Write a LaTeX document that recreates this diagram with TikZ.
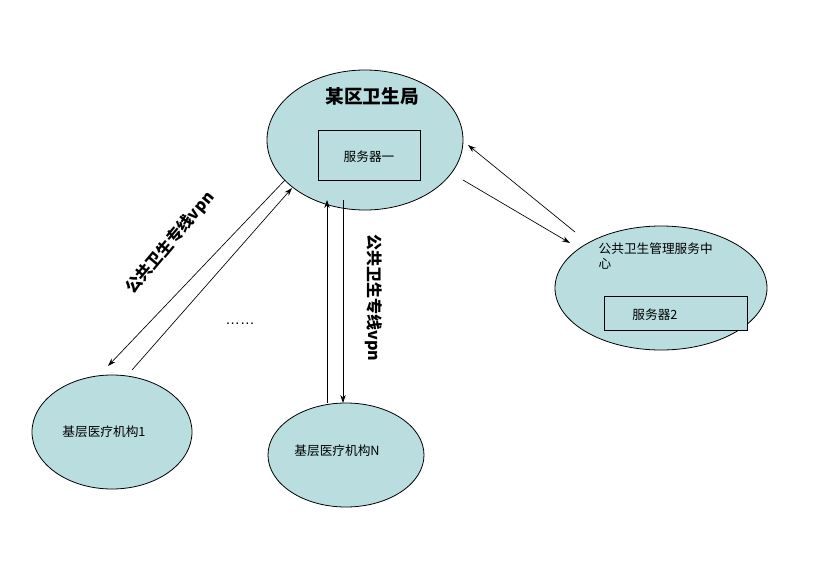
\documentclass[tikz,border=0pt]{standalone}
\usepackage{fontspec}
\setmainfont{Liberation Sans}
\newfontfamily\cjk{Noto Sans CJK SC}
\usetikzlibrary{shapes.geometric,arrows.meta}
\definecolor{ell}{RGB}{186,222,224}
\begin{document}
\begin{tikzpicture}[x=0.75pt,y=-0.75pt,
  el/.style={draw=black,fill=ell,ellipse,inner sep=0pt,line width=0.6pt},
  bx/.style={draw=black,fill=ell,inner sep=0pt,line width=0.6pt},
  arr/.style={-{Stealth[length=6pt,width=4pt]},line width=0.5pt},
  txt/.style={font=\cjk\fontsize{9.5}{11}\selectfont}]
\useasboundingbox (0,0) rectangle (825,561);
\node[el,minimum width=147pt,minimum height=105pt] (top) at (365,140) {};
\node[bx,minimum width=76.5pt,minimum height=37.5pt] (s1) at (369,155) {};
\node[txt] at (369,157) {服务器一};
\node[font=\cjk\bfseries\fontsize{14}{16}\selectfont] at (372,96) {某区卫生局};
\node[el,minimum width=159pt,minimum height=93pt] (right) at (661,288) {};
\node[bx,minimum width=107pt,minimum height=25.5pt] (s2) at (676,313) {};
\node[txt] at (655,315) {服务器2};
\node[txt,align=left,anchor=north west] at (594,238) {公共卫生管理服务中\\心};
\node[el,minimum width=120pt,minimum height=85.5pt] (b1) at (112,432) {};
\node[txt] at (104,432) {基层医疗机构1};
\node[el,minimum width=117pt,minimum height=78pt] (bn) at (346,455) {};
\node[txt] at (337,451) {基层医疗机构N};
\coordinate (l1a) at (285,180); \coordinate (l1b) at (108,366);
\coordinate (l2a) at (132,370); \coordinate (l2b) at (292,188);
\draw[arr] (l1a) -- (l1b);
\draw[arr] (l2a) -- (l2b);
\coordinate (m1a) at (327,403); \coordinate (m1b) at (327,200);
\coordinate (m2a) at (343,200); \coordinate (m2b) at (343,403);
\draw[arr] (m1a) -- (m1b);
\draw[arr] (m2a) -- (m2b);
\coordinate (r1a) at (575,232); \coordinate (r1b) at (468,145);
\coordinate (r2a) at (463,180); \coordinate (r2b) at (570,243);
\draw[arr] (r1a) -- (r1b);
\draw[arr] (r2a) -- (r2b);
\node[font=\cjk\bfseries\fontsize{12}{14}\selectfont,rotate=50] at (170,243) {公共卫生专线vpn};
\node[font=\cjk\bfseries\fontsize{12}{14}\selectfont,rotate=-90] at (374,298) {公共卫生专线vpn};
\node[font=\fontsize{11}{12}\selectfont] at (240,324) {……};
\end{tikzpicture}
\end{document}
